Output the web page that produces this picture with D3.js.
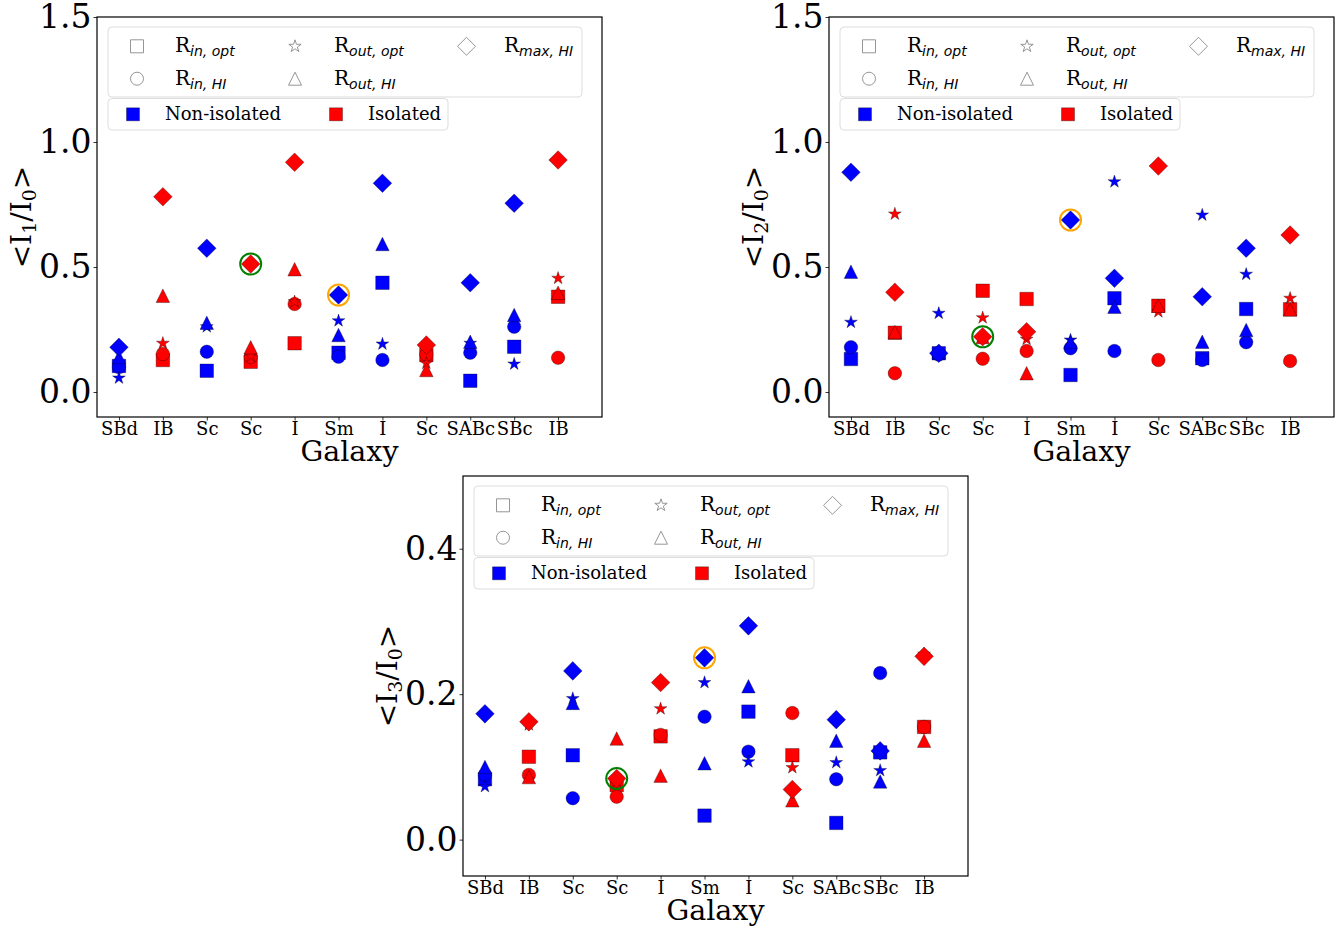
<!DOCTYPE html>
<html>
<head>
<meta charset="utf-8">
<script src="https://cdn.jsdelivr.net/npm/d3@7"></script>
<style>
  body { margin: 0; background: #fff; }
  svg { display: block; }
  text { font-family: "DejaVu Serif", serif; fill: #000; }
</style>
</head>
<body>
<svg id="fig" width="1343" height="929"></svg>
<script>
// galaxies on the x axis, same for every panel
const categories = ["SBd", "IB", "Sc", "Sc", "I", "Sm", "I", "Sc", "SABc", "SBc", "IB"];
const isolated = [false, true, false, true, true, false, false, true, false, false, true];
const greenRing = 3;   // index circled in green
const orangeRing = 5;  // index circled in orange

// <I1/I0>
const i1InOpt  = [0.104, 0.128, 0.085, 0.121, 0.195, 0.157, 0.437, 0.148, 0.045, 0.181, 0.381];
const i1InHI   = [0.100, 0.152, 0.161, 0.140, 0.352, 0.141, 0.128, 0.150, 0.157, 0.261, 0.137];
const i1OutOpt = [0.056, 0.195, 0.261, 0.144, 0.361, 0.285, 0.192, 0.115, 0.195, 0.112, 0.455];
const i1OutHI  = [0.140, 0.385, 0.277, 0.179, 0.491, 0.228, 0.592, 0.088, 0.201, 0.308, 0.397];
const i1MaxHI  = [0.179, 0.781, 0.575, 0.512, 0.919, 0.388, 0.835, 0.188, 0.437, 0.755, 0.928];

// <I2/I0>
const i2InOpt  = [0.132, 0.237, 0.155, 0.405, 0.372, 0.068, 0.375, 0.345, 0.135, 0.332, 0.331];
const i2InHI   = [0.179, 0.075, 0.150, 0.133, 0.164, 0.175, 0.164, 0.128, 0.128, 0.199, 0.124];
const i2OutOpt = [0.279, 0.712, 0.315, 0.297, 0.211, 0.208, 0.841, 0.321, 0.708, 0.471, 0.375];
const i2OutHI  = [0.481, 0.240, 0.160, 0.220, 0.075, 0.200, 0.341, 0.345, 0.201, 0.248, 0.330];
const i2MaxHI  = [0.879, 0.399, 0.155, 0.221, 0.241, 0.688, 0.455, 0.904, 0.381, 0.575, 0.628];

// <I3/I0>
const i3InOpt  = [0.083, 0.114, 0.116, 0.075, 0.142, 0.033, 0.176, 0.116, 0.023, 0.120, 0.155];
const i3InHI   = [0.089, 0.089, 0.057, 0.059, 0.144, 0.169, 0.121, 0.174, 0.083, 0.229, 0.155];
const i3OutOpt = [0.073, 0.158, 0.194, 0.080, 0.180, 0.216, 0.107, 0.099, 0.106, 0.095, 0.255];
const i3OutHI  = [0.100, 0.086, 0.188, 0.139, 0.088, 0.105, 0.211, 0.054, 0.136, 0.080, 0.136];
const i3MaxHI  = [0.173, 0.162, 0.232, 0.084, 0.216, 0.250, 0.294, 0.069, 0.165, 0.122, 0.252];

const yTicks12 = [0, 0.5, 1.0, 1.5];
const yTicks3 = [0, 0.2, 0.4];

const d3 = window.d3;
const svg = d3.select("#fig");
svg.append("rect").attr("width", 1343).attr("height", 929).attr("fill", "#fff");

// marker shapes, size = marker width in px (matplotlib style)
const shapes = {
  square: { draw(c, s) { const h = s / 2; c.moveTo(-h, -h); c.lineTo(h, -h); c.lineTo(h, h); c.lineTo(-h, h); c.closePath(); } },
  circle: { draw(c, s) { const r = s / 2; c.moveTo(r, 0); c.arc(0, 0, r, 0, 2 * Math.PI); c.closePath(); } },
  triangle: { draw(c, s) { const h = s / 2; c.moveTo(0, -h); c.lineTo(h, h); c.lineTo(-h, h); c.closePath(); } },
  diamond: { draw(c, s) { const d = s * 0.69; c.moveTo(0, -d); c.lineTo(d, 0); c.lineTo(0, d); c.lineTo(-d, 0); c.closePath(); } },
  star: { draw(c, s) {
    const ro = s / 2, ri = ro * 0.381966;
    for (let k = 0; k < 10; k++) {
      const r = k % 2 ? ri : ro;
      const a = -Math.PI / 2 + k * Math.PI / 5;
      if (k === 0) c.moveTo(r * Math.cos(a), r * Math.sin(a)); else c.lineTo(r * Math.cos(a), r * Math.sin(a));
    }
    c.closePath();
  } }
};
const msize = 13.5;
const blue = "#0000ff", red = "#ff0000";

function drawPanel(p) {
  const { left, top, w, h, yDomain, yTicks, series, ylab } = p;
  const g = svg.append("g");

  const x = d3.scaleLinear().domain([-0.5, 11]).range([left, left + w]);
  const y = d3.scaleLinear().domain(yDomain).range([top + h, top]);

  // axes
  const xa = g.append("g")
    .attr("transform", `translate(0,${top + h})`)
    .call(d3.axisBottom(x).tickValues(d3.range(categories.length)).tickFormat(i => categories[i]).tickSize(3.5).tickPadding(2));
  xa.selectAll("text").attr("font-size", 18).attr("font-family", "DejaVu Serif");

  const ya = g.append("g")
    .attr("transform", `translate(${left},0)`)
    .call(d3.axisLeft(y).tickValues(yTicks).tickFormat(d3.format(".1f")).tickSize(3.5).tickPadding(2));
  ya.selectAll("text").attr("font-size", 33).attr("font-family", "DejaVu Serif");

  g.selectAll(".domain").remove();
  g.selectAll(".tick line").attr("stroke", "#000").attr("stroke-width", 0.8);

  // frame
  g.append("rect")
    .attr("x", left).attr("y", top).attr("width", w).attr("height", h)
    .attr("fill", "none").attr("stroke", "#000").attr("stroke-width", 1.2);

  // axis labels
  g.append("text")
    .attr("x", left + w / 2).attr("y", top + h + 44)
    .attr("text-anchor", "middle").attr("font-size", 28.5)
    .text("Galaxy");

  const yl = g.append("text")
    .attr("transform", `translate(${left - 66},${top + h / 2}) rotate(-90)`)
    .attr("text-anchor", "middle").attr("font-size", 28);
  yl.append("tspan").text("<I");
  yl.append("tspan").attr("font-size", 19).attr("dy", 5).text(ylab);
  yl.append("tspan").attr("dy", -5).text("/I");
  yl.append("tspan").attr("font-size", 19).attr("dy", 5).text("0");
  yl.append("tspan").attr("dy", -5).text(">");

  // points, in plotting order
  const order = ["square", "circle", "star", "triangle", "diamond"];
  order.forEach(shape => {
    const vals = series[shape];
    g.append("g").selectAll("path")
      .data(vals.map((v, i) => ({ v, i })))
      .join("path")
      .attr("d", d3.symbol().type(shapes[shape]).size(msize))
      .attr("transform", d => `translate(${x(d.i)},${y(d.v)})`)
      .attr("fill", d => isolated[d.i] ? red : blue)
      .attr("stroke", "#000").attr("stroke-opacity", 0.55).attr("stroke-width", 0.6);
  });

  // highlight rings on the R_max,HI points
  [[greenRing, "#008000"], [orangeRing, "#ffa500"]].forEach(([i, col]) => {
    g.append("circle")
      .attr("cx", x(i)).attr("cy", y(series.diamond[i]))
      .attr("r", 10.5)
      .attr("fill", "none").attr("stroke", col).attr("stroke-width", 2);
  });

  drawLegend(g, left, top);
}

function legendLabel(g, tx, ty, sub) {
  const t = g.append("text").attr("x", tx).attr("y", ty).attr("font-size", 20);
  t.append("tspan").text("R");
  t.append("tspan").attr("dy", 4).attr("font-size", 14)
    .attr("font-family", "DejaVu Sans").attr("font-style", "italic").text(sub);
}

function drawLegend(g, left, top) {
  g.append("rect")
    .attr("x", left + 11).attr("y", top + 10).attr("width", 474).attr("height", 70)
    .attr("rx", 4).attr("fill", "#fff").attr("fill-opacity", 0.8)
    .attr("stroke", "#dddddd").attr("stroke-width", 1);
  g.append("rect")
    .attr("x", left + 11).attr("y", top + 81.5).attr("width", 340).attr("height", 31.5)
    .attr("rx", 4).attr("fill", "#fff").attr("fill-opacity", 0.8)
    .attr("stroke", "#dddddd").attr("stroke-width", 1);

  const entries = [
    { shape: "square", mx: 40, tx: 78, row: 29.3, sub: "in, opt" },
    { shape: "circle", mx: 40, tx: 78, row: 61.7, sub: "in, HI" },
    { shape: "star", mx: 198, tx: 237, row: 29.3, sub: "out, opt" },
    { shape: "triangle", mx: 198, tx: 237, row: 61.7, sub: "out, HI" },
    { shape: "diamond", mx: 369.5, tx: 407, row: 29.3, sub: "max, HI" }
  ];
  entries.forEach(e => {
    g.append("path")
      .attr("d", d3.symbol().type(shapes[e.shape]).size(13))
      .attr("transform", `translate(${left + e.mx},${top + e.row})`)
      .attr("fill", "none").attr("stroke", "#8a8a8a").attr("stroke-width", 0.9);
    legendLabel(g, left + e.tx, top + e.row + 6, e.sub);
  });

  [[36, 68, blue, "Non-isolated"], [239, 271, red, "Isolated"]].forEach(([mx, tx, col, label]) => {
    g.append("path")
      .attr("d", d3.symbol().type(shapes.square).size(13))
      .attr("transform", `translate(${left + mx},${top + 97.3})`)
      .attr("fill", col).attr("stroke", "#000").attr("stroke-opacity", 0.55).attr("stroke-width", 0.6);
    g.append("text")
      .attr("x", left + tx).attr("y", top + 97.3 + 6)
      .attr("font-size", 18).text(label);
  });
}

drawPanel({
  left: 97, top: 17, w: 505, h: 400, yDomain: [-0.1, 1.5], yTicks: yTicks12, ylab: "1",
  series: { square: i1InOpt, circle: i1InHI, star: i1OutOpt, triangle: i1OutHI, diamond: i1MaxHI }
});
drawPanel({
  left: 829, top: 17, w: 505, h: 400, yDomain: [-0.1, 1.5], yTicks: yTicks12, ylab: "2",
  series: { square: i2InOpt, circle: i2InHI, star: i2OutOpt, triangle: i2OutHI, diamond: i2MaxHI }
});
drawPanel({
  left: 463, top: 476, w: 505, h: 400, yDomain: [-0.05, 0.5], yTicks: yTicks3, ylab: "3",
  series: { square: i3InOpt, circle: i3InHI, star: i3OutOpt, triangle: i3OutHI, diamond: i3MaxHI }
});
</script>
</body>
</html>
